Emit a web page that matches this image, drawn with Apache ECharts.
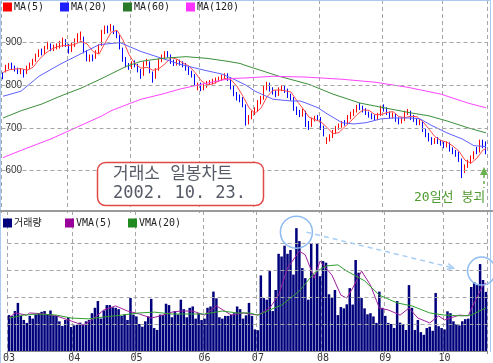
<!DOCTYPE html>
<html><head><meta charset="utf-8">
<script src="https://cdn.jsdelivr.net/npm/echarts/dist/echarts.min.js"></script>
<style>html,body{margin:0;padding:0;background:#fff}#c{width:493px;height:363px}</style>
</head><body><div id="c"></div>
<script>
// ---- data ----
const monthLabels = ['03','04','05','06','07','08','09','10'];
const monthDays = [22,21,23,18,22,21,20,15];
// daily candles: [open, close, low, high]
const ohlc = [
[826,820,814,830],[832,843,830,848],[845,848,838,852],[850,842,838,853],[843,838,832,846],
[838,832,826,841],[830,836,826,840],[834,826,818,838],[828,842,826,846],[843,850,838,853],
[850,857,846,862],[858,870,855,874],[870,880,866,884],[880,874,870,886],[876,888,872,892],
[888,895,884,902],[894,884,880,898],[885,890,880,895],[890,893,884,898],[892,896,886,904],
[896,902,890,912],[903,896,890,908],[894,880,874,897],[882,895,878,900],[896,906,890,910],
[906,915,900,922],[914,920,905,926],[912,880,875,914],[878,862,856,882],[860,868,855,872],
[868,864,856,872],[866,878,862,882],[878,892,874,896],[894,925,892,930],[926,935,920,940],
[936,928,922,940],[930,938,926,944],[936,924,920,940],[924,918,910,928],[915,890,884,918],
[885,860,855,888],[862,848,842,866],[848,842,836,852],[842,852,838,856],[852,848,842,858],
[846,835,830,850],[836,822,815,838],[824,850,822,856],[850,856,846,862],[852,832,828,856],
[828,815,806,832],[818,835,815,840],[836,858,834,862],[858,868,854,872],[868,875,862,880],
[876,870,865,880],[868,855,850,872],[856,850,845,860],[850,855,846,860],[856,852,846,860],
[852,848,842,856],[848,840,834,852],[840,830,824,844],[830,825,818,834],[824,805,798,826],
[796,800,788,806],[802,795,786,806],[794,798,788,803],[798,805,794,810],[804,808,800,812],
[808,810,802,815],[810,812,804,818],[812,815,808,820],[814,820,810,825],[820,822,814,828],
[824,815,810,828],[814,795,790,818],[796,780,774,800],[780,772,764,784],[772,768,760,778],
[768,755,748,772],[752,715,705,755],[716,725,708,730],[724,735,720,740],[734,742,730,748],
[742,760,738,765],[760,770,755,775],[770,795,766,800],[796,800,788,808],[802,790,785,806],
[790,785,778,795],[784,778,772,788],[778,790,775,795],[790,795,786,800],[796,788,782,800],
[788,775,770,792],[775,770,764,780],[770,745,740,772],[745,738,730,750],[738,732,725,742],
[730,740,726,745],[738,710,702,740],[710,705,695,716],[706,720,702,724],[720,722,715,728],
[726,724,716,730],[722,700,695,725],[700,688,680,705],[666,672,662,678],[672,680,668,685],
[680,690,676,695],[690,700,686,704],[700,705,695,710],[704,710,700,716],[714,710,705,718],
[712,725,708,730],[726,732,720,738],[734,738,728,744],[740,748,736,754],[754,748,742,758],
[748,742,736,752],[742,735,730,746],[734,730,724,738],[730,726,720,734],[725,722,716,730],
[722,730,718,735],[732,748,728,752],[748,745,738,755],[744,735,730,748],[734,728,722,738],
[728,732,722,736],[730,720,714,734],[720,715,708,724],[714,720,710,724],[720,735,716,740],
[735,738,730,744],[736,725,718,740],[726,720,714,730],[718,712,706,722],[712,716,706,720],
[712,695,690,716],[694,685,678,698],[684,675,668,688],[674,668,660,678],[666,672,662,676],
[672,670,662,678],[668,665,658,672],[664,660,652,668],[660,664,654,668],[662,650,644,666],
[650,645,638,654],[644,640,632,648],[640,628,620,644],[626,598,582,628],[600,610,594,614],
[610,620,606,625],[620,630,616,635],[630,640,626,645],[650,645,638,655],[645,668,642,672],
[668,658,652,672],[662,645,638,668]
];
const volume = [
1.33,1.30,1.48,1.78,1.30,1.15,1.04,1.30,1.20,1.35,
1.40,1.45,1.48,1.35,1.50,1.30,1.30,1.10,0.93,1.15,
1.25,0.89,0.95,0.97,1.05,0.97,1.10,1.15,1.40,1.60,
1.85,1.20,1.50,1.70,1.70,1.62,1.60,1.55,1.30,1.35,
1.15,1.96,1.35,1.28,1.00,0.90,1.10,1.28,1.93,0.85,
0.78,1.35,1.33,1.75,1.70,1.25,1.48,1.35,1.90,1.55,
1.25,1.60,1.65,1.20,1.40,1.15,1.20,1.60,1.65,2.20,
1.95,1.25,1.20,1.30,1.30,1.35,1.40,1.65,1.55,1.20,
1.32,1.78,1.30,0.80,0.77,2.80,1.96,1.90,2.96,1.48,
2.26,3.60,3.50,3.90,3.60,3.74,2.83,4.55,4.07,3.07,
2.70,1.90,4.00,2.83,4.00,2.77,3.33,3.27,2.10,1.97,
2.26,1.33,1.63,1.58,1.73,2.33,1.72,3.37,2.90,1.96,
1.58,1.36,1.40,1.28,1.04,2.20,1.60,1.30,1.04,1.00,
0.85,1.85,1.05,1.00,0.78,2.44,1.60,0.78,1.15,0.70,
0.60,0.85,0.90,0.75,2.15,0.92,0.85,0.80,1.47,1.40,
1.10,1.00,0.95,1.10,1.18,1.20,2.37,2.55,2.44,3.22,
2.63,2.19
];
// moving averages: [day index, value]
const ma5 = [[0,830],[2,836],[4,838],[6,839],[8,835],[10,842],[12,860],[14,874],[16,884],[18,890],[20,893],[22,893],[24,896],[26,903],[28,897],[30,879],[32,873],[34,899],[36,924],[38,929],[40,906],[42,872],[44,850],[46,840],[48,842],[50,835],[52,839],[54,850],[56,865],[58,861],[60,852],[62,845],[64,830],[66,811],[68,801],[70,803],[72,810],[74,816],[76,813],[78,797],[80,774],[82,747],[84,734],[86,746],[88,773],[90,788],[92,789],[94,787],[96,784],[98,763],[100,745],[102,725],[104,719],[106,714],[108,701],[110,686],[112,689],[114,703],[116,716],[118,731],[120,742],[122,741],[124,731],[126,731],[128,736],[130,738],[132,726],[134,724],[136,727],[138,726],[140,714],[142,697],[144,679],[146,670],[148,666],[150,657],[152,645],[154,624],[156,617],[158,629],[160,648],[161,651]];
const ma20 = [[0,774],[6,786],[12,821],[19,849],[26,874],[32,895],[39,900],[46,879],[53,863],[59,849],[66,837],[73,826],[77,814],[81,800],[84,786],[90,767],[96,763],[99,763],[101,758],[105,747],[108,733],[113,712],[117,709],[121,712],[126,721],[130,723],[136,723],[139,721],[143,705],[148,688],[153,674],[157,658],[161,656]];
const ma60 = [[0,723],[6,740],[13,756],[19,774],[26,793],[33,816],[41,844],[46,856],[53,863],[61,867],[68,863],[75,856],[79,851],[81,846],[92,821],[102,802],[110,779],[119,758],[127,747],[136,735],[142,728],[148,716],[155,700],[161,688]];
const ma120 = [[0,630],[6,647],[16,674],[22,693],[27,709],[33,728],[36,740],[40,751],[46,767],[53,779],[59,791],[66,802],[73,812],[77,816],[81,817],[90,821],[101,819],[113,814],[124,807],[135,795],[146,779],[155,758],[161,747]];
const vma5 = [[0,1.22],[2,1.41],[6,1.33],[7,1.41],[12,1.37],[16,1.30],[21,1.11],[25,0.96],[28,1.15],[32,1.52],[36,1.67],[40,1.48],[44,1.37],[48,1.22],[51,1.30],[55,1.44],[58,1.48],[62,1.48],[66,1.33],[70,1.67],[75,1.33],[79,1.41],[84,1.33],[88,1.59],[91,2.07],[94,3.07],[98,3.70],[100,3.56],[103,2.70],[105,3.33],[109,2.81],[112,2.07],[114,1.96],[116,2.33],[119,2.96],[122,2.44],[125,1.59],[128,1.52],[132,1.33],[135,1.59],[138,1.22],[142,1.04],[145,1.30],[147,1.15],[152,1.33],[155,1.30],[157,1.78],[160,2.44],[161,2.52]];
const vma20 = [[0,1.22],[5,1.33],[10,1.37],[16,1.33],[21,1.22],[27,1.19],[32,1.26],[38,1.33],[44,1.41],[49,1.44],[55,1.37],[60,1.37],[66,1.37],[72,1.48],[77,1.41],[81,1.41],[84,1.33],[88,1.52],[92,1.70],[98,2.22],[103,2.89],[107,3.15],[111,3.19],[114,2.96],[120,2.60],[125,2.07],[131,1.78],[136,1.67],[142,1.41],[147,1.33],[153,1.30],[156,1.33],[161,1.60]];
const priceTicks = [600,700,800,900];
const volTicks = [1,2,3,4];

// ---- build ----
const categories = [];
const monthStart = {};
monthLabels.forEach((m, k) => {
  for (let d = 1; d <= monthDays[k]; d++) {
    if (d === 1) monthStart[categories.length] = m;
    categories.push(m + '/' + d);
  }
});
const isStart = (i) => monthStart[i] !== undefined;

const GRID = '#a6a6a6';
const dashed = { type: [4, 3], color: GRID, width: 1 };
const mono = "'DejaVu Sans Mono','Noto Sans CJK KR',monospace";

const chart = echarts.init(document.getElementById('c'), null, { renderer: 'canvas' });

function legendAt(name, left, top) {
  return {
    data: [name], left: left, top: top, padding: 0, itemWidth: 9, itemHeight: 9,
    icon: 'rect', selectedMode: false, itemGap: 4,
    textStyle: { fontFamily: mono, fontSize: 10, color: '#222', padding: [0,0,0,-3] }
  };
}

const option = {
  animation: false,
  backgroundColor: '#fff',
  legend: [
    legendAt('MA(5)', 3, 2), legendAt('MA(20)', 60, 2), legendAt('MA(60)', 123, 2), legendAt('MA(120)', 186, 2),
    legendAt('거래량', 3, 218), legendAt('VMA(5)', 65, 218), legendAt('VMA(20)', 128, 218)
  ],
  grid: [
    { left: 1.5, width: 486, top: -2, height: 215 },
    { left: 1.5, width: 486, top: 211, height: 140 }
  ],
  xAxis: [
    { type: 'category', gridIndex: 0, data: categories, boundaryGap: true,
      axisLine: { show: false }, axisTick: { show: false }, axisLabel: { show: false },
      splitLine: { show: true, interval: (i) => isStart(i), lineStyle: dashed } },
    { type: 'category', gridIndex: 1, data: categories, boundaryGap: true,
      axisLine: { show: true, lineStyle: { color: '#888' } },
      axisTick: { show: true, interval: (i) => isStart(i), length: 3, lineStyle: { color: '#888' } },
      axisLabel: { show: true, interval: (i) => isStart(i), formatter: (v) => v.split('/')[0],
        margin: 2, fontSize: 10, fontFamily: mono, color: '#333' },
      splitLine: { show: true, interval: (i) => isStart(i), lineStyle: dashed } }
  ],
  yAxis: [
    { type: 'value', gridIndex: 0, min: 500, max: 1000, interval: 100,
      axisLine: { show: false }, axisTick: { show: false }, splitLine: { show: false },
      axisLabel: { inside: true, margin: 4, fontSize: 10, fontFamily: 'Liberation Sans', color: '#333',
        formatter: (v) => (v >= 600 && v <= 900 ? String(v) : '') } },
    { type: 'value', gridIndex: 1, min: 0, max: 5.185,
      axisLine: { show: false }, axisTick: { show: false }, splitLine: { show: false }, axisLabel: { show: false } }
  ],
  series: [
    { name: 'price', type: 'candlestick', xAxisIndex: 0, yAxisIndex: 0, barWidth: 1.2,
      data: ohlc.map(r => [r[0], r[1], r[2], r[3]]),
      itemStyle: { color: '#ff0000', color0: '#0000ff', borderColor: '#ff0000', borderColor0: '#0000ff', borderWidth: 1 },
      markLine: { silent: true, symbol: 'none', label: { show: false },
        lineStyle: dashed, data: priceTicks.map(v => ({ yAxis: v })) },
      z: 3 },
    { name: 'MA(5)', type: 'line', xAxisIndex: 0, yAxisIndex: 0, data: ma5, showSymbol: false, symbol: 'none',
      lineStyle: { width: 1, color: '#ff4a4a' }, itemStyle: { color: '#ff0000' }, z: 4 },
    { name: 'MA(20)', type: 'line', xAxisIndex: 0, yAxisIndex: 0, data: ma20, showSymbol: false, symbol: 'none',
      lineStyle: { width: 1, color: '#6060ff' }, itemStyle: { color: '#2020ff' }, z: 4 },
    { name: 'MA(60)', type: 'line', xAxisIndex: 0, yAxisIndex: 0, data: ma60, showSymbol: false, symbol: 'none',
      lineStyle: { width: 1, color: '#3a8f3a' }, itemStyle: { color: '#2a7a2a' }, z: 4 },
    { name: 'MA(120)', type: 'line', xAxisIndex: 0, yAxisIndex: 0, data: ma120, showSymbol: false, symbol: 'none',
      lineStyle: { width: 1, color: '#ff44ff' }, itemStyle: { color: '#ff33ff' }, z: 4 },
    { name: '거래량', type: 'bar', xAxisIndex: 1, yAxisIndex: 1, data: volume, barWidth: 2.5,
      itemStyle: { color: '#00007c' },
      markLine: { silent: true, symbol: 'none', label: { show: false },
        lineStyle: dashed, data: volTicks.map(v => ({ yAxis: v })) },
      z: 3 },
    { name: 'VMA(5)', type: 'line', xAxisIndex: 1, yAxisIndex: 1, data: vma5, showSymbol: false, symbol: 'none',
      lineStyle: { width: 1, color: '#a020a0' }, itemStyle: { color: '#990099' }, z: 4 },
    { name: 'VMA(20)', type: 'line', xAxisIndex: 1, yAxisIndex: 1, data: vma20, showSymbol: false, symbol: 'none',
      lineStyle: { width: 1, color: '#30a030' }, itemStyle: { color: '#208a20' }, z: 4 }
  ]
};
chart.setOption(option);

// ---- annotations ----
const peak1 = chart.convertToPixel({ gridIndex: 1 }, [97, volume[97]]);
const peak2 = chart.convertToPixel({ gridIndex: 1 }, [159, volume[159]]);
const lastC = chart.convertToPixel({ gridIndex: 0 }, [161, ohlc[161][2]]);
const c1 = [peak1[0], peak1[1] + 4], r1 = 16;
const c2 = [peak2[0] + 1.5, peak2[1] + 7], r2 = 14;
const a0 = [c1[0] + 10, c1[1]];
const a1 = [c2[0] - 28, c2[1] - 3];
const ang = Math.atan2(a1[1] - a0[1], a1[0] - a0[0]);
const ah = 7;
const arrowHead = [
  a1,
  [a1[0] - ah * Math.cos(ang - 0.45), a1[1] - ah * Math.sin(ang - 0.45)],
  [a1[0] - ah * Math.cos(ang + 0.45), a1[1] - ah * Math.sin(ang + 0.45)]
];
const ax = lastC[0] - 2;
chart.setOption({
  graphic: [
    // frames
    { type: 'rect', shape: { x: 0.5, y: 0.5, width: 490, height: 210 }, style: { fill: null, stroke: '#a9c9f0', lineWidth: 1 }, z: 10 },
    { type: 'line', shape: { x1: 0, y1: 211, x2: 493, y2: 211 }, style: { stroke: '#9a9a9a', lineWidth: 2 }, z: 10 },
    { type: 'line', shape: { x1: 0.5, y1: 212, x2: 0.5, y2: 363 }, style: { stroke: '#a9c9f0', lineWidth: 1 }, z: 10 },
    { type: 'line', shape: { x1: 490.5, y1: 212, x2: 490.5, y2: 352 }, style: { stroke: '#a9c9f0', lineWidth: 1 }, z: 10 },
    // title box
    { type: 'rect', shape: { x: 97.5, y: 162.5, width: 166, height: 43, r: 8 },
      style: { fill: '#fff', stroke: '#e24848', lineWidth: 1.5 }, z: 20 },
    { type: 'text', x: 113, y: 166, style: { text: '거래소 일봉차트', fill: '#555a66', font: "17px 'DejaVu Sans Mono','Noto Sans CJK KR'" }, z: 21 },
    { type: 'text', x: 113, y: 185, style: { text: '2002. 10. 23.', fill: '#555a66', font: "17px 'DejaVu Sans Mono','Noto Sans CJK KR'" }, z: 21 },
    // 20-day line collapse note
    { type: 'polygon', shape: { points: [[ax, 167], [ax - 4, 175], [ax + 4, 175]] }, style: { fill: '#6ab04c' }, z: 20 },
    { type: 'line', shape: { x1: ax, y1: 175, x2: ax, y2: 188 }, style: { stroke: '#6ab04c', lineWidth: 1.5, lineDash: [3, 3] }, z: 20 },
    { type: 'text', x: 414, y: 191, style: { text: '20일선 붕괴', fill: '#4e9a2e', font: "13px 'DejaVu Sans Mono','Noto Sans CJK KR'" }, z: 20 },
    // volume circles + dashed arrow
    { type: 'circle', shape: { cx: c1[0], cy: c1[1], r: r1 }, style: { fill: null, stroke: '#8fbdf0', lineWidth: 1.5 }, z: 20 },
    { type: 'circle', shape: { cx: c2[0], cy: c2[1], r: r2 }, style: { fill: null, stroke: '#8fbdf0', lineWidth: 1.5 }, z: 20 },
    { type: 'line', shape: { x1: a0[0], y1: a0[1], x2: a1[0], y2: a1[1] }, style: { stroke: '#a8cdf5', lineWidth: 1.5, lineDash: [5, 4] }, z: 20 },
    { type: 'polyline', shape: { points: [arrowHead[1], arrowHead[0], arrowHead[2]] }, style: { stroke: '#a8cdf5', lineWidth: 1.5, fill: null }, z: 20 }
  ]
});
</script>
</body></html>
